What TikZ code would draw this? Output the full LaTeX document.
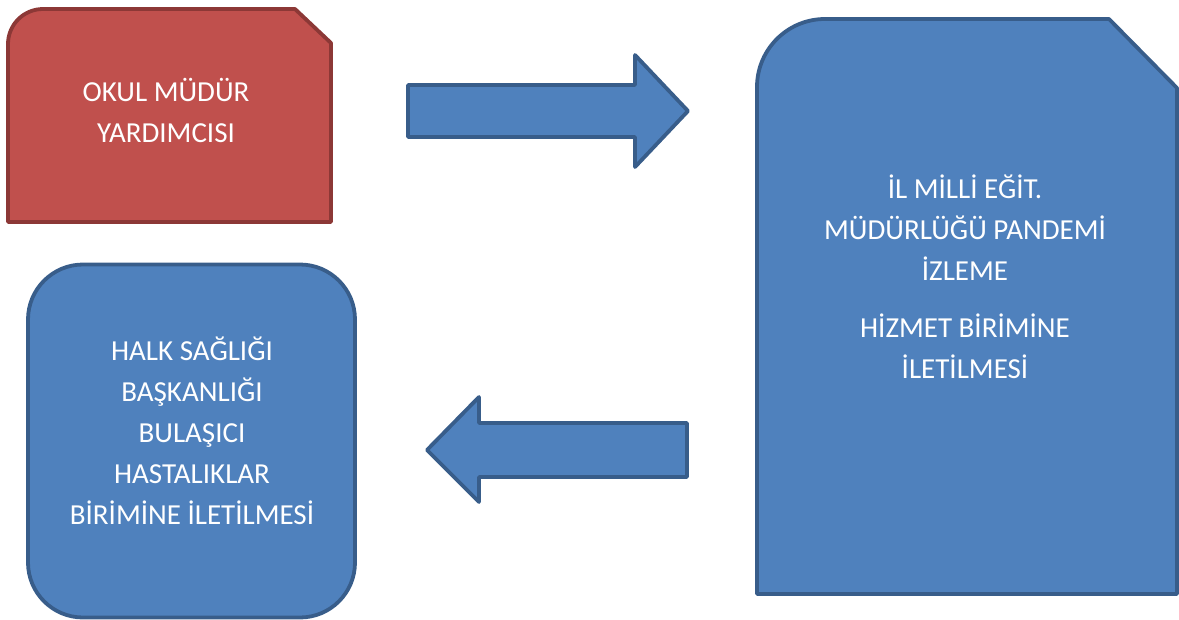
\documentclass[tikz,border=0pt]{standalone}
\usepackage{fontspec}
\setmainfont{Carlito}
\definecolor{redfill}{HTML}{C0504D}
\definecolor{redline}{HTML}{8C3836}
\definecolor{bluefill}{HTML}{4F81BD}
\definecolor{blueline}{HTML}{385D8A}
\tikzset{%
    redshape/.style={fill=redfill,draw=redline,line width=3.8pt,line join=round},
    blueshape/.style={fill=bluefill,draw=blueline,line width=3.8pt,line join=round},
    boxtext/.style={text=white,align=center,inner sep=0pt,font=\fontsize{29}{41}\selectfont}
}
\begin{document}
\begin{tikzpicture}[x=1pt,y=-1pt]
    \useasboundingbox (0,0) rectangle (1179,619);
    \draw[redshape] (8,222) -- (8,44) arc[start angle=180,end angle=270,radius=35] -- (295,9) -- (331,43) -- (331,222) -- cycle;
    \node[boxtext] (okul) at (166,110) {OKUL MÜDÜR\\YARDIMCISI};
    \draw[blueshape] (408,85) -- (635,85) -- (635,55) -- (688,111) -- (635,167) -- (635,137) -- (408,137) -- cycle;
    \draw[blueshape] (757,594) -- (757,87) arc[start angle=180,end angle=270,radius=68] -- (1109,19) -- (1177,88) -- (1177,594) -- cycle;
    \node[boxtext] (ilmem) at (965,277) {İL MİLLİ EĞİT.\\MÜDÜRLÜĞÜ PANDEMİ\\İZLEME\\[16pt]HİZMET BİRİMİNE\\İLETİLMESİ};
    \draw[blueshape] (687,423) -- (479,423) -- (479,397) -- (427,450) -- (479,502) -- (479,477) -- (687,477) -- cycle;
    \node[blueshape,rounded corners=55pt,minimum width=327pt,minimum height=353pt] (halk) at (191.5,441) {};
    \node[boxtext] (halktext) at (192,431) {HALK SAĞLIĞI\\BAŞKANLIĞI\\BULAŞICI\\HASTALIKLAR\\BİRİMİNE İLETİLMESİ};
\end{tikzpicture}
\end{document}
